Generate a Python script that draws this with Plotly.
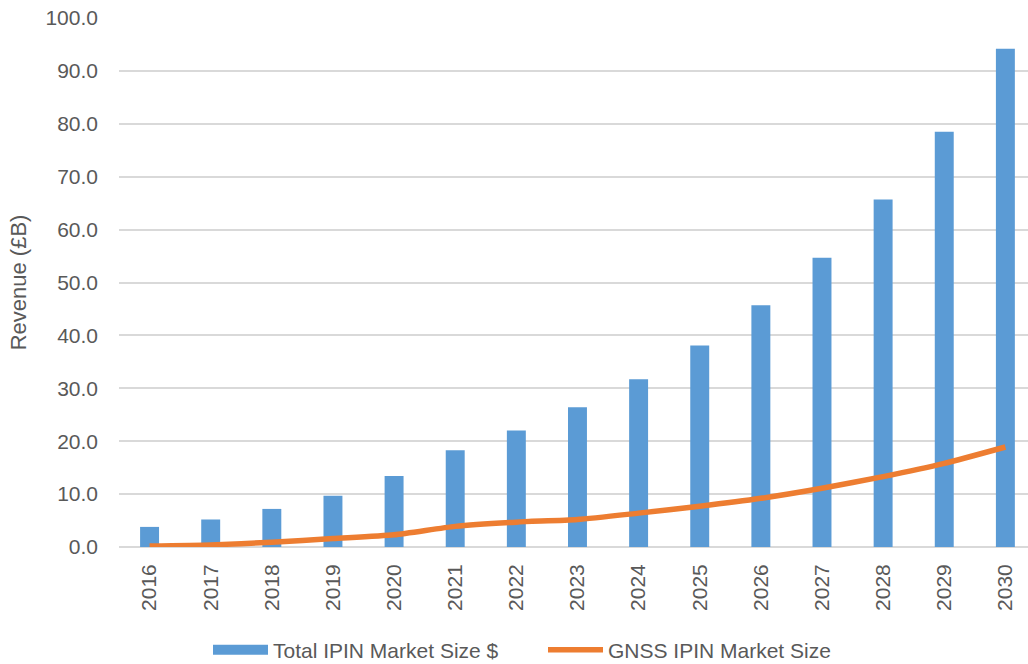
import plotly.graph_objects as go

years = [str(y) for y in range(2016, 2031)]
total_ipin = [3.8, 5.2, 7.2, 9.7, 13.4, 18.3, 22.0, 26.4, 31.7, 38.1, 45.7, 54.7, 65.7, 78.5, 94.2]
gnss_ipin = [0.2, 0.4, 0.9, 1.6, 2.3, 3.9, 4.7, 5.2, 6.4, 7.7, 9.2, 11.1, 13.3, 15.8, 18.9]
y_ticks = [0, 10, 20, 30, 40, 50, 60, 70, 80, 90, 100]

FONT = "Liberation Sans"
TXT = "#595959"
BLUE = "#5B9BD5"
ORANGE = "#ED7D31"

fig = go.Figure()
fig.add_trace(go.Bar(
    x=years, y=total_ipin, name="Total IPIN Market Size $",
    marker=dict(color=BLUE, line=dict(width=0)), width=0.31,
    showlegend=False,
))
# legend entry for the bars drawn as a wide rectangle swatch
fig.add_trace(go.Scatter(
    x=[None], y=[None], name="Total IPIN Market Size $", mode="lines",
    line=dict(color=BLUE, width=14), showlegend=True,
))
fig.add_trace(go.Scatter(
    x=years, y=gnss_ipin, name="GNSS IPIN Market Size", mode="lines",
    line=dict(color=ORANGE, width=5.5, shape="spline", smoothing=0.6),
))

fig.update_layout(
    width=1028, height=664,
    margin=dict(l=119, r=0, t=18, b=117, autoexpand=False),
    plot_bgcolor="white", paper_bgcolor="white",
    font=dict(family=FONT, size=21, color=TXT),
    showlegend=True,
    legend=dict(
        orientation="h", xref="container", yref="container",
        x=208 / 1028, xanchor="left", y=0.021, yanchor="middle",
        font=dict(family=FONT, size=21, color=TXT),
        traceorder="normal", itemwidth=55,
        entrywidth=265, entrywidthmode="pixels",
    ),
)
fig.update_xaxes(
    type="category", range=[-0.5, 14.37],
    tickangle=-90, ticks="", showgrid=False,
    showline=False, ticklabelstandoff=12,
    tickfont=dict(family=FONT, size=21, color=TXT),
)
fig.update_yaxes(
    range=[0, 100], tickvals=y_ticks,
    ticktext=[f"{v:.1f}" for v in y_ticks],
    showgrid=True, gridcolor="#D9D9D9", gridwidth=1.5,
    zeroline=True, zerolinecolor="#D9D9D9", zerolinewidth=1.5,
    showline=False, ticks="", ticklabelstandoff=20,
    tickfont=dict(family=FONT, size=21, color=TXT),
    title=dict(text="Revenue (£B)", font=dict(family=FONT, size=22, color=TXT), standoff=12),
    automargin=False,
)

fig.write_html("out.html")
